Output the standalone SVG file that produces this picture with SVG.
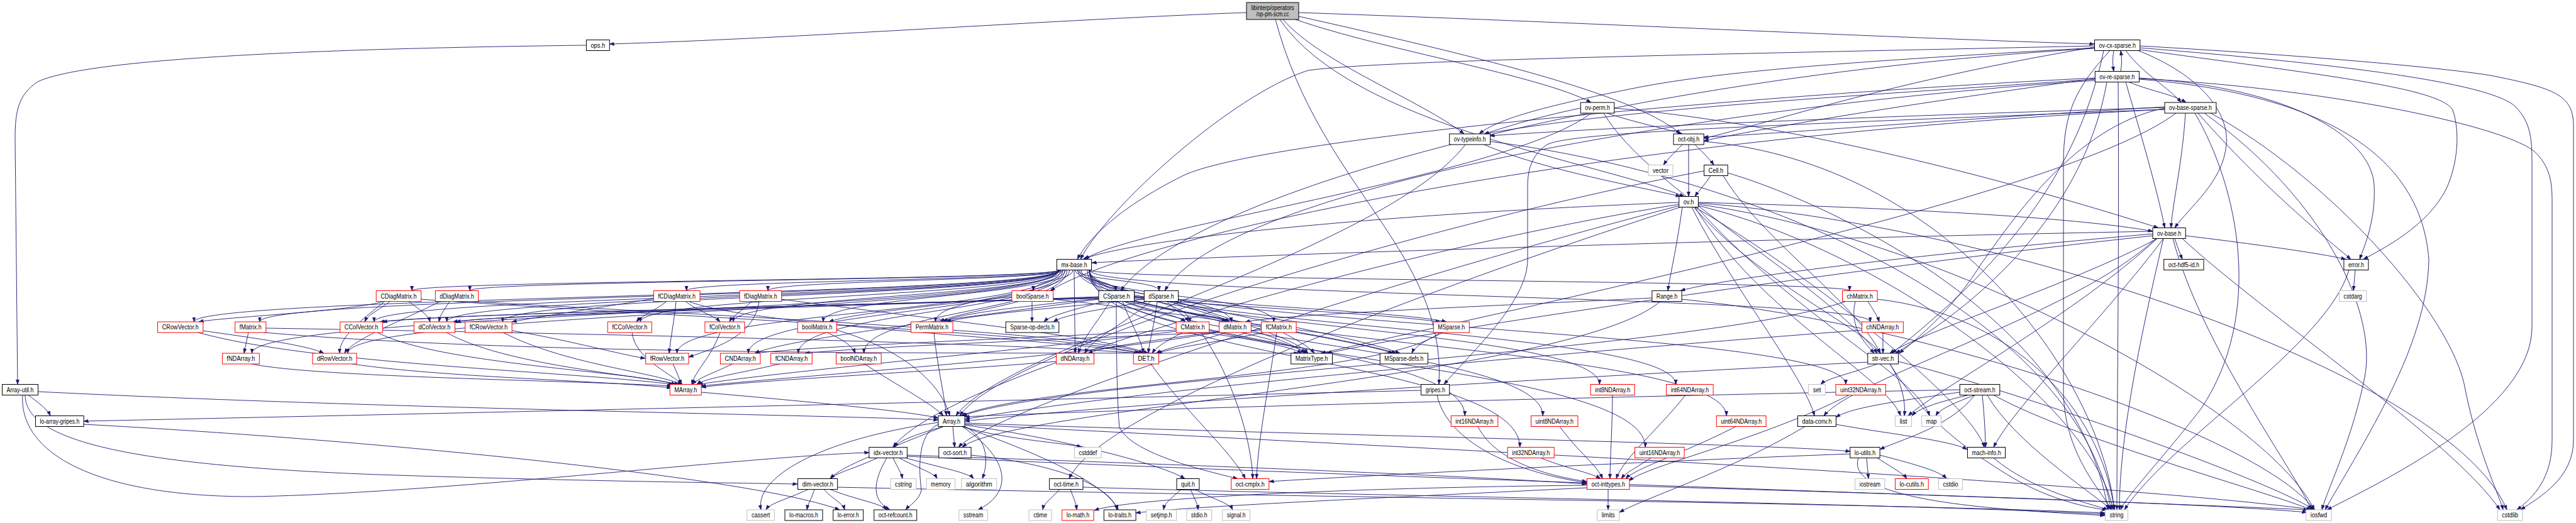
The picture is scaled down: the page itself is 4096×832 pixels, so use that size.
<svg xmlns="http://www.w3.org/2000/svg" width="4096" height="832" viewBox="0 0 4096 832">
<defs>
<marker id="ah" viewBox="0 0 8 6" refX="7.5" refY="3" markerWidth="8" markerHeight="6" markerUnits="userSpaceOnUse" orient="auto"><path d="M0,0.4L7.5,3L0,5.6z" fill="#191970" stroke="#191970" stroke-width="0.6"/></marker>
</defs>
<style>
.b{fill:#fff;stroke:#000;stroke-width:1}
.r{fill:#fff;stroke:#f00;stroke-width:1}
.g{fill:#fff;stroke:#bfbfbf;stroke-width:1}
.t{fill:#bfbfbf;stroke:#000;stroke-width:1}
text{font-family:"Liberation Sans",Arial,sans-serif;font-size:10.5px;text-anchor:middle;fill:#000}
#edges path{fill:none;stroke:#191970;stroke-width:0.9;marker-end:url(#ah)}
</style>
<rect x="0" y="0" width="4096" height="832" fill="#fff"/>
<g id="edges">
<path d="M1982,20C1700,30 1250,62 969,70"/>
<path d="M2065,20C2500,35 3000,60 3330,70"/>
<path d="M2060,31C2200,80 2450,120 2530,163"/>
<path d="M2040,31C2100,100 2260,160 2328,213"/>
<path d="M2065,26C2350,90 2600,150 2672,213"/>
<path d="M2035,31C2150,200 2550,260 2678,312.5"/>
<path d="M2028,31C2100,300 2300,400 2288,611.5"/>
<path d="M932,72C600,76 150,88 60,130C30,150 24,175 24,220L28,611.5"/>
<path d="M3361,80.5C3359,95 3359,100 3361,113.5"/>
<path d="M3380,80.5C3410,120 3450,140 3468,163"/>
<path d="M3400,80.5C3500,120 3545,180 3540,230C3535,290 3480,330 3458,362.5"/>
<path d="M3402,73C3700,90 3900,110 3960,120C4060,140 4092,150 4092,200L4092,700C4092,760 4040,790 4008,811"/>
<path d="M3402,76C3700,100 3960,130 4000,170C4024,195 4026,220 4026,260L4026,520C4026,650 3800,760 3700,811"/>
<path d="M3355,80.5C3300,140 3281,180 3281,260L3281,620C3281,720 3340,780 3358,811"/>
<path d="M3402,79C3700,120 3880,140 3900,175C3912,210 3908,260 3890,300C3860,360 3790,395 3758,412.5"/>
<path d="M3330,73C2800,85 2200,95 2080,112C1960,150 1760,330 1718,412.5"/>
<path d="M3330,75C3000,130 2800,200 2709,220"/>
<path d="M3330,76C3000,95 2750,110 2600,140C2450,170 2380,190 2352,213"/>
<path d="M3345,80.5C3300,300 3150,450 3008,562"/>
<path d="M3330,77C2600,120 1900,300 1782,462.5"/>
<path d="M3372,113.5C3374,100 3374,95 3372,80.5"/>
<path d="M3385,130.5C3420,145 3455,150 3476,163"/>
<path d="M3380,130.5C3400,200 3430,300 3442,362.5"/>
<path d="M3401,125C3700,140 3980,200 4030,241C4055,265 4058,290 4058,320L4058,700C4058,760 4030,790 4002,811"/>
<path d="M3401,126C3700,150 3850,250 3862,413C3860,550 3760,700 3697,811"/>
<path d="M3401,124C3650,140 3770,220 3775,294C3778,350 3760,390 3752,412.5"/>
<path d="M3331,124C2800,150 2000,220 1880,280C1780,330 1730,380 1713,412.5"/>
<path d="M3331,125C3000,170 2800,205 2709,224"/>
<path d="M3331,126C3000,150 2600,170 2360,213"/>
<path d="M3350,130.5C3320,300 3200,450 3014,562"/>
<path d="M3331,128C2700,170 1950,300 1852,462.5"/>
<path d="M3368,130.5C3370,400 3366,650 3366,811"/>
<path d="M3475,180C3470,260 3455,320 3452,362.5"/>
<path d="M3495,180C3600,300 3700,380 3738,412.5"/>
<path d="M3505,180C3700,320 3780,500 3760,600C3740,700 3700,780 3692,811"/>
<path d="M3490,180C3560,300 3600,500 3500,650C3430,740 3380,790 3372,811"/>
<path d="M3515,180C3700,280 3900,500 3920,620C3940,720 3975,790 3980,811"/>
<path d="M3442,172C3300,200 3200,350 3150,420C3100,500 3040,545 3020,562"/>
<path d="M3442,170C3100,190 2800,215 2709,218"/>
<path d="M3442,171C3000,185 2600,200 2369,216"/>
<path d="M3442,174C2500,220 1800,380 1670,462.5"/>
<path d="M3460,180C3300,300 2600,450 2100,562"/>
<path d="M3442,174C2800,200 2500,210 2460,230C2430,250 2429,280 2429,300L2429,413C2429,480 2340,560 2296,611.5"/>
<path d="M2513,172C2450,185 2400,200 2360,213"/>
<path d="M2555,180C2600,195 2650,205 2675,213"/>
<path d="M2567,172C2900,200 3300,320 3432,362.5"/>
<path d="M2530,180C2400,280 1800,360 1725,412.5"/>
<path d="M2550,180C2620,300 2900,450 2985,562"/>
<path d="M2360,230C2450,270 2620,300 2672,312.5"/>
<path d="M2330,230C2200,400 1600,550 1520,661.5"/>
<path d="M2369,225C2800,280 3300,500 3357,811"/>
<path d="M2675,230C2660,245 2650,255 2645,262.5"/>
<path d="M2695,230C2710,245 2720,255 2725,262.5"/>
<path d="M2685,230L2685,312.5"/>
<path d="M2709,225C3100,260 3340,600 3362,811"/>
<path d="M2720,279.5C2710,295 2700,305 2695,312.5"/>
<path d="M2709,272C2300,350 1600,550 1526,661.5"/>
<path d="M2740,279.5C2800,380 2950,480 2990,562"/>
<path d="M2747,275C2900,320 3300,500 3352,811"/>
<path d="M2700,322C3000,330 3300,345 3423,368"/>
<path d="M2670,322C2200,340 1800,380 1722,412.5"/>
<path d="M2675,329.5C2665,400 2655,440 2652,462.5"/>
<path d="M2690,329.5C2750,450 2870,600 2885,661.5"/>
<path d="M2670,325C2200,400 1500,600 1420,711.5"/>
<path d="M2695,329.5C2900,450 3140,650 3155,711.5"/>
<path d="M2672,329.5C2300,450 1750,650 1700,761.5"/>
<path d="M2693,329.5C2800,450 2960,520 2990,562"/>
<path d="M2671,327C2200,450 1580,650 1524,711.5"/>
<path d="M2695,329.5C2800,500 3000,600 3022,661.5"/>
<path d="M2698,329.5C2850,500 3050,600 3068,661.5"/>
<path d="M2700,327C3000,400 3330,650 3360,811"/>
<path d="M2700,325C3100,380 3600,650 3680,811"/>
<path d="M2700,323C3200,360 3900,600 3986,811"/>
<path d="M3458,379.5C3463,395 3467,405 3470,412.5"/>
<path d="M3475,375C3600,390 3700,405 3730,412.5"/>
<path d="M3470,379.5C3600,500 3900,700 3975,811"/>
<path d="M3455,379.5C3500,550 3650,750 3675,811"/>
<path d="M3430,379.5C3300,500 3080,620 3034,661.5"/>
<path d="M3440,379.5C3400,550 3370,700 3370,811"/>
<path d="M3423,372C3100,400 2750,440 2672,462.5"/>
<path d="M3428,379.5C3300,500 2950,600 2900,661.5"/>
<path d="M3423,368C2800,380 2000,405 1736,418"/>
<path d="M3430,379.5C3300,450 3050,530 3005,562"/>
<path d="M3423,375C3000,420 2300,520 2110,562"/>
<path d="M3440,379.5C3350,500 3200,650 3170,711.5"/>
<path d="M3745,429.5L3742,462.5"/>
<path d="M3735,429.5C3700,550 3450,700 3378,811"/>
<path d="M1684,429.5C1684,446 747,446 747,462.5"/>
<path d="M1684,429.5C1684,446 655,446 655,462.5"/>
<path d="M1691,429.5C1691,446 1221,446 1221,462.5"/>
<path d="M1687,429.5C1687,446 1091.5,446 1091.5,462.5"/>
<path d="M1706,429.5C1706,446 1643,446 1643,462.5"/>
<path d="M1710,429.5C1710,446 1774,446 1774,462.5"/>
<path d="M1713,429.5C1713,446 1843,446 1843,462.5"/>
<path d="M1732,429.5C1732,446 2941,446 2941,462.5"/>
<path d="M1694,429.5C1694,470.75 1309,470.75 1309,512"/>
<path d="M1716.5,429.5C1716.5,470.75 1957.7,470.75 1957.7,512"/>
<path d="M1714,429.5C1714,470.75 1892,470.75 1892,512"/>
<path d="M1684,429.5C1684,470.75 413,470.75 413,512"/>
<path d="M1719,429.5C1719,470.75 2025.5,470.75 2025.5,512"/>
<path d="M1684,429.5C1684,470.75 710.4,470.75 710.4,512"/>
<path d="M1684,429.5C1684,470.75 594.8,470.75 594.8,512"/>
<path d="M1689.5,429.5C1689.5,470.75 1166,470.75 1166,512"/>
<path d="M1684.4,429.5C1684.4,470.75 1018.3,470.75 1018.3,512"/>
<path d="M1684,429.5C1684,470.75 308.5,470.75 308.5,512"/>
<path d="M1684,429.5C1684,470.75 799.2,470.75 799.2,512"/>
<path d="M1700.5,429.5C1700.5,470.75 1487.4,470.75 1487.4,512"/>
<path d="M1732,429.5C1732,470.75 2973.8,470.75 2973.8,512"/>
<path d="M1684,429.5C1684,495.75 553,495.75 553,562"/>
<path d="M1686.4,429.5C1686.4,495.75 1076.5,495.75 1076.5,562"/>
<path d="M1696.6,429.5C1696.6,495.75 1373.7,495.75 1373.7,562"/>
<path d="M1690,429.5C1690,495.75 1190,495.75 1190,562"/>
<path d="M1708,429.5L1709.5,562"/>
<path d="M1684,429.5C1684,495.75 400.6,495.75 400.6,562"/>
<path d="M1693,429.5C1693,495.75 1269.4,495.75 1269.4,562"/>
<path d="M1732,429.5C1732,520.5 2543.4,520.5 2543.4,611.5"/>
<path d="M1732,429.5C1732,520.5 2664.6,520.5 2664.6,611.5"/>
<path d="M1732,429.5C1732,520.5 2934.9,520.5 2934.9,611.5"/>
<path d="M1729,429.5C1729,545.5 2329.2,545.5 2329.2,661.5"/>
<path d="M1732,429.5C1732,545.5 2453.2,545.5 2453.2,661.5"/>
<path d="M1732,429.5C1732,545.5 2745.1,545.5 2745.1,661.5"/>
<path d="M1732,429.5C1732,570.5 2416.7,570.5 2416.7,711.5"/>
<path d="M1732,429.5C1732,570.5 2616.2,570.5 2616.2,711.5"/>
<path d="M610,479.5C560,495 350,505 316,512"/>
<path d="M620,479.5C600,495 585,500 580,512"/>
<path d="M650,479.5C670,495 680,500 684,512"/>
<path d="M612,479.5C560,520 540,540 540,562"/>
<path d="M669,476C1000,500 1700,530 1812,562"/>
<path d="M715,479.5C705,495 700,500 698,512"/>
<path d="M700,479.5C640,510 560,540 548,562"/>
<path d="M750,479.5C1100,500 1750,530 1818,562"/>
<path d="M1040,475C950,490 850,505 814,512"/>
<path d="M1060,479.5C1040,495 1020,502 1012,512"/>
<path d="M1090,479.5C1110,495 1135,502 1145,512"/>
<path d="M1075,479.5C1072,510 1066,540 1064,562"/>
<path d="M1095,479.5C1200,520 1700,540 1815,562"/>
<path d="M1195,479.5C1180,495 1165,502 1160,512"/>
<path d="M1207,479.5C1200,530 1150,550 1095,568"/>
<path d="M1242,476C1500,510 1750,535 1826,562"/>
<path d="M1641,479.5L1641,512"/>
<path d="M1620,479.5C1560,495 1510,502 1495,512"/>
<path d="M1674,476C1900,500 2150,540 2215,562"/>
<path d="M1609,472C1450,490 1350,500 1318,512"/>
<path d="M1795,479.5C1850,495 1930,500 1950,512"/>
<path d="M1790,479.5C1830,495 1870,500 1885,512"/>
<path d="M1765,479.5C1740,520 1720,540 1715,562"/>
<path d="M1747,476C1500,510 1250,540 1200,562"/>
<path d="M1747,472C1300,490 800,500 720,512"/>
<path d="M1747,473C1200,490 700,500 604,512"/>
<path d="M1775,479.5C1775,550 1776,640 1780,680C1800,720 1900,745 1968,761.5"/>
<path d="M1785,479.5C1800,520 1815,540 1818,562"/>
<path d="M1803,475C2000,490 2200,500 2290,512"/>
<path d="M1800,479.5C1950,510 2150,540 2220,562"/>
<path d="M1755,479.5C1700,495 1670,502 1660,512"/>
<path d="M1800,478C1950,510 2050,540 2075,562"/>
<path d="M1747,475C1600,490 1520,500 1500,512"/>
<path d="M1860,479.5C1900,495 1940,502 1955,512"/>
<path d="M1855,479.5C1870,495 1885,502 1890,512"/>
<path d="M1830,479.5C1780,520 1735,540 1725,562"/>
<path d="M1819,472C1300,485 800,500 725,512"/>
<path d="M1819,473C1250,487 700,500 608,512"/>
<path d="M1840,479.5C1835,520 1828,540 1826,562"/>
<path d="M1873,476C2050,490 2250,500 2300,512"/>
<path d="M1865,479.5C2000,510 2170,540 2226,562"/>
<path d="M1825,479.5C1730,495 1690,502 1675,512"/>
<path d="M1870,479.5C1980,515 2060,540 2080,562"/>
<path d="M1819,476C1650,492 1540,502 1505,512"/>
<path d="M2627,474C2300,490 2050,500 1980,512"/>
<path d="M2640,479.5C2500,600 1600,650 1530,711.5"/>
<path d="M2674,476C3100,520 3600,700 3680,811"/>
<path d="M2970,479.5C2980,495 2985,502 2988,512"/>
<path d="M2950,479.5C2940,520 2965,545 2980,562"/>
<path d="M2935,479.5C2700,560 1700,600 1530,661.5"/>
<path d="M2985,476C3200,500 3340,650 3362,811"/>
<path d="M322,526C420,540 490,550 515,562"/>
<path d="M315,529C500,580 900,590 1070,611.5"/>
<path d="M395,529L388,562"/>
<path d="M423,522C900,530 1600,545 1810,562"/>
<path d="M420,529C900,570 1700,560 2065,562"/>
<path d="M600,529C700,580 1000,590 1075,611.5"/>
<path d="M710,529C800,580 1000,595 1080,611.5"/>
<path d="M814,526C900,540 990,565 1026,570"/>
<path d="M800,529C900,580 1030,590 1085,611.5"/>
<path d="M1005,529C1010,570 1060,590 1085,611.5"/>
<path d="M1145,529C1130,570 1105,590 1100,611.5"/>
<path d="M1315,529C1340,540 1355,550 1360,562"/>
<path d="M1330,525C1450,560 1500,620 1510,661.5"/>
<path d="M1485,529C1490,580 1500,620 1505,661.5"/>
<path d="M1870,525C1600,540 1300,550 1200,562"/>
<path d="M1880,529C1860,540 1840,550 1832,562"/>
<path d="M1915,529C1990,540 2050,550 2070,562"/>
<path d="M1910,529C1960,600 1990,700 1992,761.5"/>
<path d="M1870,527C1600,560 1250,590 1110,611.5"/>
<path d="M1940,527C1850,540 1760,550 1730,562"/>
<path d="M1950,529C1900,545 1860,552 1838,562"/>
<path d="M1975,529C2020,540 2060,550 2078,562"/>
<path d="M1940,528C1700,570 1300,595 1115,614"/>
<path d="M2006,525C1700,540 1400,550 1280,562"/>
<path d="M2010,529C1930,545 1870,552 1840,562"/>
<path d="M2040,529C2060,540 2080,550 2090,562"/>
<path d="M2030,529C2020,600 2000,700 1998,761.5"/>
<path d="M2295,529C2270,540 2250,550 2245,562"/>
<path d="M2290,529C2200,600 1650,610 1528,661.5"/>
<path d="M2994,529L2994,562"/>
<path d="M2962,525C2500,560 1800,620 1534,667"/>
<path d="M400,579C500,600 900,605 1068,614"/>
<path d="M560,579C700,600 950,605 1068,617"/>
<path d="M1070,579C1075,590 1080,600 1083,611.5"/>
<path d="M1165,579C1130,595 1110,602 1100,611.5"/>
<path d="M1240,579C1170,595 1120,602 1108,611.5"/>
<path d="M1375,579C1420,610 1480,640 1500,661.5"/>
<path d="M1680,575C1500,590 1200,605 1115,616"/>
<path d="M1830,579C1880,650 1960,720 1980,761.5"/>
<path d="M2985,579C2940,595 2905,602 2895,611.5"/>
<path d="M3005,579C3025,610 3030,640 3028,661.5"/>
<path d="M3005,579C3050,650 3100,700 3200,760C3260,795 3320,808 3350,811"/>
<path d="M3018,575C3200,620 3600,760 3680,811"/>
<path d="M2970,576C2500,600 1800,640 1534,670"/>
<path d="M45,628.5C60,640 75,650 80,661.5"/>
<path d="M60,623C600,650 1300,660 1492,668"/>
<path d="M40,628.5C40,700 200,740 600,755C900,765 1150,768 1268,770"/>
<path d="M36,628.5C30,720 150,790 400,790C700,785 1200,725 1382,720"/>
<path d="M1115,624C1300,640 1450,655 1492,665"/>
<path d="M2260,621C1500,640 600,660 133,670"/>
<path d="M2285,628.5C2300,700 2400,750 2523,768"/>
<path d="M2564,628.5C2563,700 2560,730 2560,761.5"/>
<path d="M2680,628.5C2640,680 2580,730 2570,761.5"/>
<path d="M2940,628.5C2800,700 2620,740 2590,765"/>
<path d="M2350,678.5C2380,740 2480,760 2523,766"/>
<path d="M2480,678.5C2510,720 2540,740 2548,761.5"/>
<path d="M2760,678.5C2680,720 2600,745 2585,761.5"/>
<path d="M2450,728.5C2490,745 2530,752 2545,761.5"/>
<path d="M2625,728.5C2600,745 2585,752 2578,761.5"/>
<path d="M3130,628.5C3080,640 3050,650 3040,661.5"/>
<path d="M3140,628.5C3110,640 3085,650 3078,661.5"/>
<path d="M3116,624C3000,640 2940,650 2919,664"/>
<path d="M3140,628.5C3100,680 3020,700 2989,715"/>
<path d="M3152,628.5C3155,660 3157,690 3157,711.5"/>
<path d="M3160,628.5C3200,700 3320,780 3358,811"/>
<path d="M3170,628.5C3300,700 3600,780 3675,811"/>
<path d="M3116,620C2600,630 1800,650 1534,663"/>
<path d="M133,675C600,700 1200,760 1335,811"/>
<path d="M1492,672C1300,700 1200,760 1210,811"/>
<path d="M1530,678.5C1600,700 1700,705 1720,711.5"/>
<path d="M1534,678C1575,700 1570,740 1562,761.5"/>
<path d="M1534,675C2000,700 3300,760 3680,811"/>
<path d="M1500,678.5C1400,720 1340,740 1320,761.5"/>
<path d="M1500,678.5C1460,690 1430,700 1422,711.5"/>
<path d="M1530,678.5C1650,720 1760,770 1778,811"/>
<path d="M1534,673C2000,690 2800,705 2942,718"/>
<path d="M1515,678.5L1518,711.5"/>
<path d="M1534,676C1700,700 1850,740 1884,761.5"/>
<path d="M1492,675C1460,690 1460,740 1465,780C1462,795 1445,805 1440,811"/>
<path d="M1530,678.5C1620,740 1600,790 1555,811"/>
<path d="M2870,678.5C2750,750 2620,790 2575,815"/>
<path d="M2919,675C3000,690 3100,700 3128,715"/>
<path d="M1285,778.5C1250,795 1225,800 1218,811"/>
<path d="M1295,778.5C1290,795 1285,800 1283,811"/>
<path d="M1310,778.5C1325,795 1340,800 1343,811"/>
<path d="M1320,778.5C1360,795 1400,800 1410,811"/>
<path d="M1331,775C2000,790 3000,800 3347,816"/>
<path d="M1395,728.5C1360,745 1330,752 1320,761.5"/>
<path d="M1420,728.5C1428,745 1433,752 1435,761.5"/>
<path d="M1430,728.5C1460,745 1485,752 1490,761.5"/>
<path d="M1440,728.5C1500,745 1540,752 1548,761.5"/>
<path d="M1410,728.5C1380,780 1395,800 1415,811"/>
<path d="M1442,724C1900,740 2300,755 2523,770"/>
<path d="M1442,726C2200,760 3200,790 3670,811"/>
<path d="M1544,724C1700,740 1770,780 1776,811"/>
<path d="M2968,728.5L2971,761.5"/>
<path d="M2985,728.5C3010,745 3025,752 3032,761.5"/>
<path d="M2989,724C3050,740 3085,750 3095,761.5"/>
<path d="M2955,728.5C2930,800 3200,812 3347,820"/>
<path d="M2942,722C2600,735 2200,755 2018,766"/>
<path d="M3170,728.5C3230,780 3320,800 3352,811"/>
<path d="M1685,778.5C1670,795 1660,800 1658,811"/>
<path d="M1702,778.5C1708,795 1711,800 1712,811"/>
<path d="M1722,775C2200,790 3000,800 3347,818"/>
<path d="M1878,778.5C1860,795 1852,800 1850,811"/>
<path d="M1893,778.5C1900,795 1904,800 1905,811"/>
<path d="M1900,778.5C1930,795 1955,800 1960,811"/>
<path d="M2557,778.5L2557,811"/>
<path d="M2591,773C3000,785 3500,800 3668,815"/>
<path d="M2523,772C2200,775 1800,790 1740,812"/>
<path d="M2523,776C2200,792 1900,805 1806,816"/>
</g>
<g id="n_top"><rect class="t" x="1982" y="4" width="83" height="27"/><text x="2023.5" y="15.5" textLength="68" lengthAdjust="spacingAndGlyphs">libinterp/operators</text><text x="2023.5" y="26" textLength="52" lengthAdjust="spacingAndGlyphs">/op-pm-scm.cc</text></g>
<g id="n_ops"><rect class="b" x="932.4" y="63.5" width="36.8" height="17"/><text x="950.8" y="75.7" textLength="22.8" lengthAdjust="spacingAndGlyphs">ops.h</text></g>
<g id="n_ovcx"><rect class="b" x="3330.5" y="63.5" width="72.3" height="17"/><text x="3366.7" y="75.7" textLength="58.3" lengthAdjust="spacingAndGlyphs">ov-cx-sparse.h</text></g>
<g id="n_ovre"><rect class="b" x="3331.3" y="113.5" width="70.1" height="17"/><text x="3366.4" y="125.7" textLength="56.1" lengthAdjust="spacingAndGlyphs">ov-re-sparse.h</text></g>
<g id="n_ovperm"><rect class="b" x="2513.3" y="163" width="53.5" height="17"/><text x="2540.1" y="175.2" textLength="39.5" lengthAdjust="spacingAndGlyphs">ov-perm.h</text></g>
<g id="n_ovbs"><rect class="b" x="3442" y="163" width="81.9" height="17"/><text x="3483" y="175.2" textLength="67.9" lengthAdjust="spacingAndGlyphs">ov-base-sparse.h</text></g>
<g id="n_ovti"><rect class="b" x="2304.7" y="213" width="64.9" height="17"/><text x="2337.2" y="225.2" textLength="50.9" lengthAdjust="spacingAndGlyphs">ov-typeinfo.h</text></g>
<g id="n_octobj"><rect class="b" x="2661" y="213" width="48.2" height="17"/><text x="2685.1" y="225.2" textLength="34.2" lengthAdjust="spacingAndGlyphs">oct-obj.h</text></g>
<g id="n_vector"><rect class="g" x="2621" y="262.5" width="39" height="17"/><text x="2640.5" y="274.7" textLength="25" lengthAdjust="spacingAndGlyphs">vector</text></g>
<g id="n_cell"><rect class="b" x="2709.6" y="262.5" width="37.6" height="17"/><text x="2728.4" y="274.7" textLength="23.6" lengthAdjust="spacingAndGlyphs">Cell.h</text></g>
<g id="n_ovh"><rect class="b" x="2669.7" y="312.5" width="30.7" height="17"/><text x="2685.1" y="324.7" textLength="16.7" lengthAdjust="spacingAndGlyphs">ov.h</text></g>
<g id="n_ovbase"><rect class="b" x="3423" y="362.5" width="52.2" height="17"/><text x="3449.1" y="374.7" textLength="38.2" lengthAdjust="spacingAndGlyphs">ov-base.h</text></g>
<g id="n_hdf5"><rect class="b" x="3440.7" y="412.5" width="63.3" height="17"/><text x="3472.4" y="424.7" textLength="49.3" lengthAdjust="spacingAndGlyphs">oct-hdf5-id.h</text></g>
<g id="n_error"><rect class="b" x="3726.9" y="412.5" width="39" height="17"/><text x="3746.4" y="424.7" textLength="25" lengthAdjust="spacingAndGlyphs">error.h</text></g>
<g id="n_mxbase"><rect class="b" x="1680.4" y="412.5" width="55.2" height="17"/><text x="1708" y="424.7" textLength="41.2" lengthAdjust="spacingAndGlyphs">mx-base.h</text></g>
<g id="n_cstdarg"><rect class="g" x="3719.5" y="462.5" width="43.3" height="17"/><text x="3741.2" y="474.7" textLength="29.3" lengthAdjust="spacingAndGlyphs">cstdarg</text></g>
<g id="n_CDiag"><rect class="r" x="598.2" y="462.5" width="71.4" height="17"/><text x="633.9" y="474.7" textLength="57.4" lengthAdjust="spacingAndGlyphs">CDiagMatrix.h</text></g>
<g id="n_dDiag"><rect class="r" x="692.3" y="462.5" width="68.3" height="17"/><text x="726.5" y="474.7" textLength="54.3" lengthAdjust="spacingAndGlyphs">dDiagMatrix.h</text></g>
<g id="n_fCDiag"><rect class="r" x="1039.3" y="462.5" width="73.7" height="17"/><text x="1076.2" y="474.7" textLength="59.7" lengthAdjust="spacingAndGlyphs">fCDiagMatrix.h</text></g>
<g id="n_fDiag"><rect class="r" x="1176.1" y="462.5" width="66.6" height="17"/><text x="1209.4" y="474.7" textLength="52.6" lengthAdjust="spacingAndGlyphs">fDiagMatrix.h</text></g>
<g id="n_boolSp"><rect class="r" x="1608.9" y="462.5" width="65.8" height="17"/><text x="1641.8" y="474.7" textLength="51.8" lengthAdjust="spacingAndGlyphs">boolSparse.h</text></g>
<g id="n_CSp"><rect class="b" x="1747" y="462.5" width="56.5" height="17"/><text x="1775.3" y="474.7" textLength="42.5" lengthAdjust="spacingAndGlyphs">CSparse.h</text></g>
<g id="n_dSp"><rect class="b" x="1819.3" y="462.5" width="54.3" height="17"/><text x="1846.5" y="474.7" textLength="40.3" lengthAdjust="spacingAndGlyphs">dSparse.h</text></g>
<g id="n_Range"><rect class="b" x="2626.8" y="462.5" width="47.3" height="17"/><text x="2650.5" y="474.7" textLength="33.3" lengthAdjust="spacingAndGlyphs">Range.h</text></g>
<g id="n_chMat"><rect class="r" x="2929.5" y="462.5" width="55.6" height="17"/><text x="2957.3" y="474.7" textLength="41.6" lengthAdjust="spacingAndGlyphs">chMatrix.h</text></g>
<g id="n_CRow"><rect class="r" x="250.6" y="512" width="72.3" height="17"/><text x="286.8" y="524.2" textLength="58.3" lengthAdjust="spacingAndGlyphs">CRowVector.h</text></g>
<g id="n_fMat"><rect class="r" x="373.8" y="512" width="49.1" height="17"/><text x="398.4" y="524.2" textLength="35.1" lengthAdjust="spacingAndGlyphs">fMatrix.h</text></g>
<g id="n_CCol"><rect class="r" x="540.8" y="512" width="67.5" height="17"/><text x="574.6" y="524.2" textLength="53.5" lengthAdjust="spacingAndGlyphs">CColVector.h</text></g>
<g id="n_dCol"><rect class="r" x="658.2" y="512" width="65.2" height="17"/><text x="690.8" y="524.2" textLength="51.2" lengthAdjust="spacingAndGlyphs">dColVector.h</text></g>
<g id="n_fCRow"><rect class="r" x="739.6" y="512" width="74.5" height="17"/><text x="776.9" y="524.2" textLength="60.5" lengthAdjust="spacingAndGlyphs">fCRowVector.h</text></g>
<g id="n_fCCol"><rect class="r" x="966.2" y="512" width="70.1" height="17"/><text x="1001.3" y="524.2" textLength="56.1" lengthAdjust="spacingAndGlyphs">fCColVector.h</text></g>
<g id="n_fCol"><rect class="r" x="1120.9" y="512" width="63.1" height="17"/><text x="1152.5" y="524.2" textLength="49.1" lengthAdjust="spacingAndGlyphs">fColVector.h</text></g>
<g id="n_boolMat"><rect class="r" x="1268.2" y="512" width="62.1" height="17"/><text x="1299.3" y="524.2" textLength="48.1" lengthAdjust="spacingAndGlyphs">boolMatrix.h</text></g>
<g id="n_Perm"><rect class="r" x="1448.6" y="512" width="66.5" height="17"/><text x="1481.9" y="524.2" textLength="52.5" lengthAdjust="spacingAndGlyphs">PermMatrix.h</text></g>
<g id="n_SpOp"><rect class="b" x="1599.3" y="512" width="84.5" height="17"/><text x="1641.6" y="524.2" textLength="70.5" lengthAdjust="spacingAndGlyphs">Sparse-op-decls.h</text></g>
<g id="n_CMat"><rect class="r" x="1870.2" y="512" width="52.5" height="17"/><text x="1896.5" y="524.2" textLength="38.5" lengthAdjust="spacingAndGlyphs">CMatrix.h</text></g>
<g id="n_dMat"><rect class="r" x="1938.5" y="512" width="50.8" height="17"/><text x="1963.9" y="524.2" textLength="36.8" lengthAdjust="spacingAndGlyphs">dMatrix.h</text></g>
<g id="n_fCMat"><rect class="r" x="2005.6" y="512" width="55.5" height="17"/><text x="2033.4" y="524.2" textLength="41.5" lengthAdjust="spacingAndGlyphs">fCMatrix.h</text></g>
<g id="n_MSp"><rect class="r" x="2279.3" y="512" width="57" height="17"/><text x="2307.8" y="524.2" textLength="43" lengthAdjust="spacingAndGlyphs">MSparse.h</text></g>
<g id="n_chND"><rect class="r" x="2960.6" y="512" width="65.8" height="17"/><text x="2993.5" y="524.2" textLength="51.8" lengthAdjust="spacingAndGlyphs">chNDArray.h</text></g>
<g id="n_fND"><rect class="r" x="353.6" y="562" width="58.8" height="17"/><text x="383" y="574.2" textLength="44.8" lengthAdjust="spacingAndGlyphs">fNDArray.h</text></g>
<g id="n_dRow"><rect class="r" x="497" y="562" width="70" height="17"/><text x="532" y="574.2" textLength="56" lengthAdjust="spacingAndGlyphs">dRowVector.h</text></g>
<g id="n_fRow"><rect class="r" x="1026.7" y="562" width="68.3" height="17"/><text x="1060.9" y="574.2" textLength="54.3" lengthAdjust="spacingAndGlyphs">fRowVector.h</text></g>
<g id="n_CND"><rect class="r" x="1145.4" y="562" width="63.5" height="17"/><text x="1177.2" y="574.2" textLength="49.5" lengthAdjust="spacingAndGlyphs">CNDArray.h</text></g>
<g id="n_fCND"><rect class="r" x="1225.6" y="562" width="65.7" height="17"/><text x="1258.5" y="574.2" textLength="51.7" lengthAdjust="spacingAndGlyphs">fCNDArray.h</text></g>
<g id="n_boolND"><rect class="r" x="1329.5" y="562" width="71.7" height="17"/><text x="1365.4" y="574.2" textLength="57.7" lengthAdjust="spacingAndGlyphs">boolNDArray.h</text></g>
<g id="n_dND"><rect class="r" x="1679.5" y="562" width="60" height="17"/><text x="1709.5" y="574.2" textLength="46" lengthAdjust="spacingAndGlyphs">dNDArray.h</text></g>
<g id="n_DET"><rect class="r" x="1802.2" y="562" width="40.4" height="17"/><text x="1822.4" y="574.2" textLength="26.4" lengthAdjust="spacingAndGlyphs">DET.h</text></g>
<g id="n_MT"><rect class="b" x="2052.7" y="562" width="65.8" height="17"/><text x="2085.6" y="574.2" textLength="51.8" lengthAdjust="spacingAndGlyphs">MatrixType.h</text></g>
<g id="n_MSpD"><rect class="b" x="2194.3" y="562" width="76.2" height="17"/><text x="2232.4" y="574.2" textLength="62.2" lengthAdjust="spacingAndGlyphs">MSparse-defs.h</text></g>
<g id="n_strvec"><rect class="b" x="2969.8" y="562" width="48.6" height="17"/><text x="2994.1" y="574.2" textLength="34.6" lengthAdjust="spacingAndGlyphs">str-vec.h</text></g>
<g id="n_AU"><rect class="b" x="3.5" y="611.5" width="57" height="17"/><text x="32" y="623.7" textLength="43" lengthAdjust="spacingAndGlyphs">Array-util.h</text></g>
<g id="n_MArr"><rect class="r" x="1065.2" y="611.5" width="50" height="17"/><text x="1090.2" y="623.7" textLength="36" lengthAdjust="spacingAndGlyphs">MArray.h</text></g>
<g id="n_gripes"><rect class="b" x="2259.6" y="611.5" width="45.1" height="17"/><text x="2282.2" y="623.7" textLength="31.1" lengthAdjust="spacingAndGlyphs">gripes.h</text></g>
<g id="n_i8"><rect class="r" x="2529.1" y="611.5" width="70.1" height="17"/><text x="2564.2" y="623.7" textLength="56.1" lengthAdjust="spacingAndGlyphs">int8NDArray.h</text></g>
<g id="n_i64"><rect class="r" x="2649.6" y="611.5" width="74.5" height="17"/><text x="2686.9" y="623.7" textLength="60.5" lengthAdjust="spacingAndGlyphs">int64NDArray.h</text></g>
<g id="n_set"><rect class="g" x="2875.6" y="611.5" width="26.7" height="17"/><text x="2889" y="623.7" textLength="12.7" lengthAdjust="spacingAndGlyphs">set</text></g>
<g id="n_u32"><rect class="r" x="2919" y="611.5" width="79.3" height="17"/><text x="2958.7" y="623.7" textLength="65.3" lengthAdjust="spacingAndGlyphs">uint32NDArray.h</text></g>
<g id="n_ostream"><rect class="b" x="3116.2" y="611.5" width="63.6" height="17"/><text x="3148" y="623.7" textLength="49.6" lengthAdjust="spacingAndGlyphs">oct-stream.h</text></g>
<g id="n_lag"><rect class="b" x="56.5" y="661.5" width="76.7" height="17"/><text x="94.9" y="673.7" textLength="62.7" lengthAdjust="spacingAndGlyphs">lo-array-gripes.h</text></g>
<g id="n_Arr"><rect class="b" x="1491.9" y="661.5" width="42.1" height="17"/><text x="1513" y="673.7" textLength="28.1" lengthAdjust="spacingAndGlyphs">Array.h</text></g>
<g id="n_i16"><rect class="r" x="2307.3" y="661.5" width="74.5" height="17"/><text x="2344.6" y="673.7" textLength="60.5" lengthAdjust="spacingAndGlyphs">int16NDArray.h</text></g>
<g id="n_u8"><rect class="r" x="2434.5" y="661.5" width="74.4" height="17"/><text x="2471.7" y="673.7" textLength="60.4" lengthAdjust="spacingAndGlyphs">uint8NDArray.h</text></g>
<g id="n_u64"><rect class="r" x="2729.3" y="661.5" width="78.8" height="17"/><text x="2768.7" y="673.7" textLength="64.8" lengthAdjust="spacingAndGlyphs">uint64NDArray.h</text></g>
<g id="n_dconv"><rect class="b" x="2858.5" y="661.5" width="60.9" height="17"/><text x="2889" y="673.7" textLength="46.9" lengthAdjust="spacingAndGlyphs">data-conv.h</text></g>
<g id="n_list"><rect class="g" x="3013.6" y="661.5" width="25.9" height="17"/><text x="3026.6" y="673.7" textLength="11.9" lengthAdjust="spacingAndGlyphs">list</text></g>
<g id="n_map"><rect class="g" x="3055.7" y="661.5" width="30.7" height="17"/><text x="3071.1" y="673.7" textLength="16.7" lengthAdjust="spacingAndGlyphs">map</text></g>
<g id="n_idxv"><rect class="b" x="1381.9" y="711.5" width="60.5" height="17"/><text x="1412.2" y="723.7" textLength="46.5" lengthAdjust="spacingAndGlyphs">idx-vector.h</text></g>
<g id="n_osort"><rect class="b" x="1492.8" y="711.5" width="51.3" height="17"/><text x="1518.5" y="723.7" textLength="37.3" lengthAdjust="spacingAndGlyphs">oct-sort.h</text></g>
<g id="n_cstddef"><rect class="g" x="1708.4" y="711.5" width="42.9" height="17"/><text x="1729.9" y="723.7" textLength="28.9" lengthAdjust="spacingAndGlyphs">cstddef</text></g>
<g id="n_i32"><rect class="r" x="2397.2" y="711.5" width="74" height="17"/><text x="2434.2" y="723.7" textLength="60" lengthAdjust="spacingAndGlyphs">int32NDArray.h</text></g>
<g id="n_u16"><rect class="r" x="2599.6" y="711.5" width="78.5" height="17"/><text x="2638.9" y="723.7" textLength="64.5" lengthAdjust="spacingAndGlyphs">uint16NDArray.h</text></g>
<g id="n_loutils"><rect class="b" x="2941.8" y="711.5" width="47.3" height="17"/><text x="2965.5" y="723.7" textLength="33.3" lengthAdjust="spacingAndGlyphs">lo-utils.h</text></g>
<g id="n_mach"><rect class="b" x="3128.4" y="711.5" width="60.1" height="17"/><text x="3158.5" y="723.7" textLength="46.1" lengthAdjust="spacingAndGlyphs">mach-info.h</text></g>
<g id="n_dimv"><rect class="b" x="1268.6" y="761.5" width="63.1" height="17"/><text x="1300.2" y="773.7" textLength="49.1" lengthAdjust="spacingAndGlyphs">dim-vector.h</text></g>
<g id="n_cstring"><rect class="g" x="1416.1" y="761.5" width="40.8" height="17"/><text x="1436.5" y="773.7" textLength="26.8" lengthAdjust="spacingAndGlyphs">cstring</text></g>
<g id="n_memory"><rect class="g" x="1473.1" y="761.5" width="45.6" height="17"/><text x="1495.9" y="773.7" textLength="31.6" lengthAdjust="spacingAndGlyphs">memory</text></g>
<g id="n_algorithm"><rect class="g" x="1528.7" y="761.5" width="56.1" height="17"/><text x="1556.8" y="773.7" textLength="42.1" lengthAdjust="spacingAndGlyphs">algorithm</text></g>
<g id="n_otime"><rect class="b" x="1668.6" y="761.5" width="53.4" height="17"/><text x="1695.3" y="773.7" textLength="39.4" lengthAdjust="spacingAndGlyphs">oct-time.h</text></g>
<g id="n_quit"><rect class="b" x="1871" y="761.5" width="35.9" height="17"/><text x="1889" y="773.7" textLength="21.9" lengthAdjust="spacingAndGlyphs">quit.h</text></g>
<g id="n_ocmplx"><rect class="r" x="1957.7" y="761.5" width="60.1" height="17"/><text x="1987.8" y="773.7" textLength="46.1" lengthAdjust="spacingAndGlyphs">oct-cmplx.h</text></g>
<g id="n_oint"><rect class="r" x="2523.4" y="761.5" width="67.5" height="17"/><text x="2557.2" y="773.7" textLength="53.5" lengthAdjust="spacingAndGlyphs">oct-inttypes.h</text></g>
<g id="n_iostream"><rect class="g" x="2949.7" y="761.5" width="47.3" height="17"/><text x="2973.4" y="773.7" textLength="33.3" lengthAdjust="spacingAndGlyphs">iostream</text></g>
<g id="n_locutils"><rect class="r" x="3013.6" y="761.5" width="52.6" height="17"/><text x="3039.9" y="773.7" textLength="38.6" lengthAdjust="spacingAndGlyphs">lo-cutils.h</text></g>
<g id="n_cstdio"><rect class="g" x="3082.4" y="761.5" width="38.2" height="17"/><text x="3101.5" y="773.7" textLength="24.2" lengthAdjust="spacingAndGlyphs">cstdio</text></g>
<g id="n_cassert"><rect class="g" x="1187.9" y="811" width="43.4" height="17"/><text x="1209.6" y="823.2" textLength="29.4" lengthAdjust="spacingAndGlyphs">cassert</text></g>
<g id="n_lomacros"><rect class="b" x="1248" y="811" width="60" height="17"/><text x="1278" y="823.2" textLength="46" lengthAdjust="spacingAndGlyphs">lo-macros.h</text></g>
<g id="n_loerror"><rect class="b" x="1324.7" y="811" width="48" height="17"/><text x="1348.7" y="823.2" textLength="34" lengthAdjust="spacingAndGlyphs">lo-error.h</text></g>
<g id="n_orefc"><rect class="b" x="1389.8" y="811" width="67.9" height="17"/><text x="1423.8" y="823.2" textLength="53.9" lengthAdjust="spacingAndGlyphs">oct-refcount.h</text></g>
<g id="n_sstream"><rect class="g" x="1524.8" y="811" width="45.6" height="17"/><text x="1547.6" y="823.2" textLength="31.6" lengthAdjust="spacingAndGlyphs">sstream</text></g>
<g id="n_ctime"><rect class="g" x="1636.1" y="811" width="35.9" height="17"/><text x="1654.1" y="823.2" textLength="21.9" lengthAdjust="spacingAndGlyphs">ctime</text></g>
<g id="n_lomath"><rect class="r" x="1688.7" y="811" width="50.4" height="17"/><text x="1713.9" y="823.2" textLength="36.4" lengthAdjust="spacingAndGlyphs">lo-math.h</text></g>
<g id="n_lotraits"><rect class="b" x="1755.3" y="811" width="50.8" height="17"/><text x="1780.7" y="823.2" textLength="36.8" lengthAdjust="spacingAndGlyphs">lo-traits.h</text></g>
<g id="n_setjmp"><rect class="g" x="1822.8" y="811" width="47.8" height="17"/><text x="1846.7" y="823.2" textLength="33.8" lengthAdjust="spacingAndGlyphs">setjmp.h</text></g>
<g id="n_stdio"><rect class="g" x="1886.8" y="811" width="39.9" height="17"/><text x="1906.8" y="823.2" textLength="25.9" lengthAdjust="spacingAndGlyphs">stdio.h</text></g>
<g id="n_signal"><rect class="g" x="1943.7" y="811" width="43.9" height="17"/><text x="1965.7" y="823.2" textLength="29.9" lengthAdjust="spacingAndGlyphs">signal.h</text></g>
<g id="n_limits"><rect class="g" x="2539.7" y="811" width="35" height="17"/><text x="2557.2" y="823.2" textLength="21" lengthAdjust="spacingAndGlyphs">limits</text></g>
<g id="n_string"><rect class="g" x="3347.5" y="811" width="36" height="17"/><text x="3365.5" y="823.2" textLength="22" lengthAdjust="spacingAndGlyphs">string</text></g>
<g id="n_iosfwd"><rect class="g" x="3666.8" y="811" width="40.3" height="17"/><text x="3687" y="823.2" textLength="26.3" lengthAdjust="spacingAndGlyphs">iosfwd</text></g>
<g id="n_cstdlib"><rect class="g" x="3971.2" y="811" width="39.8" height="17"/><text x="3991.1" y="823.2" textLength="25.8" lengthAdjust="spacingAndGlyphs">cstdlib</text></g>
</svg>
